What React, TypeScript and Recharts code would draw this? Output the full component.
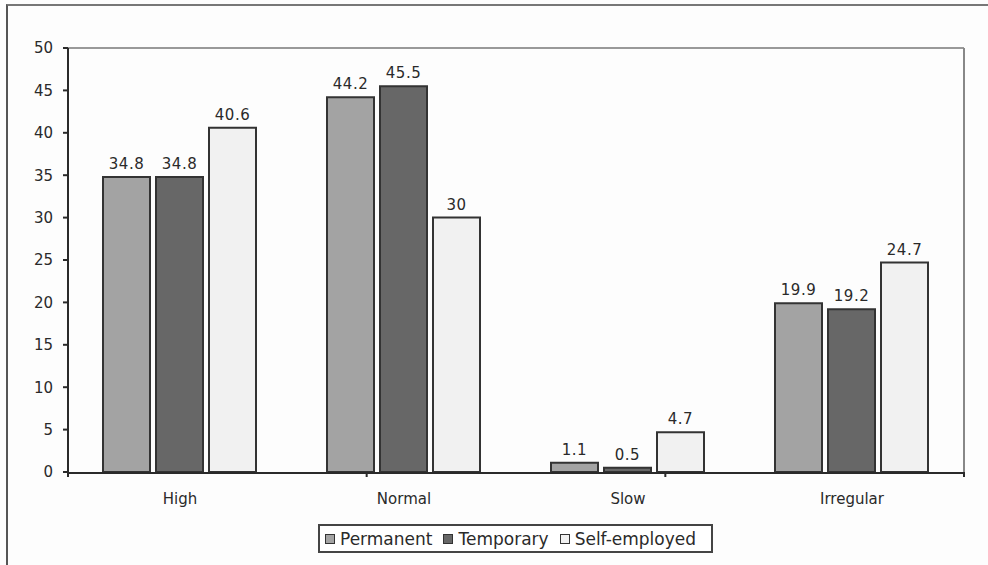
import { BarChart, Bar, XAxis, YAxis, LabelList, ReferenceLine } from 'recharts';

const categories = ['High', 'Normal', 'Slow', 'Irregular'];
const permanent = [34.8, 44.2, 1.1, 19.9];
const temporary = [34.8, 45.5, 0.5, 19.2];
const selfEmployed = [40.6, 30, 4.7, 24.7];
const yTicks = [0, 5, 10, 15, 20, 25, 30, 35, 40, 45, 50];
const boundaryTicks = [0, 1, 2, 3, 4];

const series = [
  { key: 'permanent', name: 'Permanent', color: '#a3a3a3' },
  { key: 'temporary', name: 'Temporary', color: '#676767' },
  { key: 'selfEmployed', name: 'Self-employed', color: '#f1f1f1' },
];

const data = categories.map((c, i) => ({
  category: c,
  permanent: permanent[i],
  temporary: temporary[i],
  selfEmployed: selfEmployed[i],
}));

const FONT = '"DejaVu Sans", Verdana, sans-serif';
const INK = '#2a2a2a';

export default function App() {
  return (
    <div style={{ position: 'absolute', left: 0, top: 0, width: 988, height: 565, background: '#fdfdfd', fontFamily: FONT }}>
      {/* outer frame: top and left edges only */}
      <div style={{ position: 'absolute', left: 6, top: 4, width: 982, height: 561, borderTop: '2px solid #777', borderLeft: '2px solid #555' }} />
      <BarChart
        width={988}
        height={565}
        data={data}
        margin={{ top: 48, right: 23, left: 0, bottom: 63 }}
        barCategoryGap={35}
        barGap={6}
        style={{ position: 'absolute', left: 0, top: 0 }}
      >
        {/* tick marks at category boundaries */}
        <XAxis
          xAxisId="a"
          type="number"
          domain={[0, 4]}
          ticks={boundaryTicks}
          height={1}
          axisLine={false}
          tickLine={{ stroke: INK, strokeWidth: 2 }}
          tickSize={5}
          tickFormatter={() => ''}
        />
        <XAxis
          xAxisId="b"
          dataKey="category"
          height={29}
          axisLine={{ stroke: INK, strokeWidth: 2 }}
          tickLine={false}
          tickMargin={14}
          tick={{ fontSize: 15, fill: INK, fontFamily: FONT }}
        />
        <YAxis
          width={68}
          domain={[0, 50]}
          ticks={yTicks}
          interval={0}
          axisLine={{ stroke: INK, strokeWidth: 2 }}
          tickLine={{ stroke: INK, strokeWidth: 2 }}
          tickSize={5}
          tickMargin={10}
          tick={{ fontSize: 15, fill: INK, fontFamily: FONT }}
        />
        {/* right edge of the plot frame */}
        <YAxis
          yAxisId="frame"
          orientation="right"
          width={1}
          domain={[0, 50]}
          axisLine={{ stroke: '#888', strokeWidth: 2 }}
          tickLine={false}
          tick={false}
        />
        <ReferenceLine xAxisId="b" y={50} stroke="#999" strokeWidth={2} />
        {series.map((s) => (
          <Bar
            key={s.key}
            xAxisId="b"
            dataKey={s.key}
            name={s.name}
            fill={s.color}
            stroke="#333"
            strokeWidth={2}
            isAnimationActive={false}
          >
            <LabelList
              dataKey={s.key}
              position="top"
              offset={8}
              style={{ fontSize: 15, fill: INK, fontFamily: FONT, letterSpacing: 0.5 }}
            />
          </Bar>
        ))}
      </BarChart>
      {/* legend box */}
      <div
        style={{
          position: 'absolute',
          left: 318,
          top: 524,
          width: 395,
          height: 29,
          boxSizing: 'border-box',
          border: '2px solid #444',
          background: '#fff',
          display: 'flex',
          alignItems: 'center',
          gap: 11,
          paddingLeft: 5,
          fontSize: 17,
          color: INK,
          whiteSpace: 'nowrap',
        }}
      >
        {series.map((s) => (
          <span key={s.key} style={{ display: 'flex', alignItems: 'center', gap: 5 }}>
            <span style={{ display: 'inline-block', width: 8, height: 8, background: s.color, border: '1.5px solid #333' }} />
            {s.name}
          </span>
        ))}
      </div>
    </div>
  );
}
